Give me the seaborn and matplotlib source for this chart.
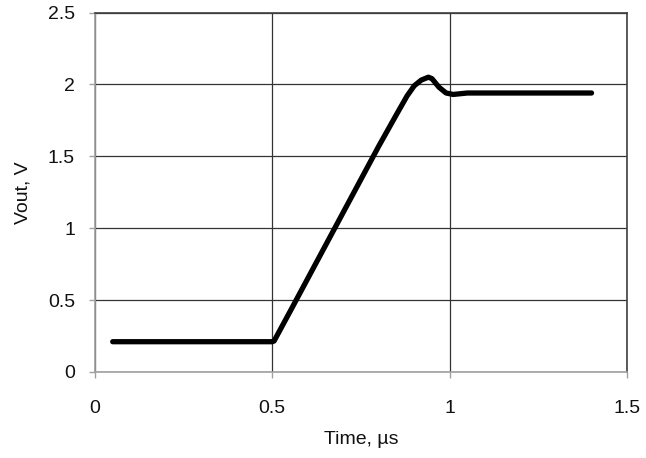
import matplotlib
matplotlib.use("Agg")
import matplotlib.pyplot as plt
import pandas as pd
import seaborn as sns

# Vout step response
time_us = [0.05, 0.10, 0.15, 0.20, 0.25, 0.30, 0.35, 0.40, 0.45, 0.50, 0.505,
           0.55, 0.60, 0.65, 0.70, 0.75, 0.80, 0.85, 0.88, 0.90, 0.92, 0.94,
           0.95, 0.97, 0.99, 1.01, 1.03, 1.05, 1.10, 1.15, 1.20, 1.25, 1.30,
           1.35, 1.40]
vout = [0.21, 0.21, 0.21, 0.21, 0.21, 0.21, 0.21, 0.21, 0.21, 0.21, 0.215,
        0.42, 0.65, 0.88, 1.11, 1.34, 1.57, 1.79, 1.92, 1.99, 2.03, 2.05,
        2.04, 1.98, 1.94, 1.93, 1.935, 1.94, 1.94, 1.94, 1.94, 1.94, 1.94,
        1.94, 1.94]

x_ticks = [0, 0.5, 1, 1.5]
y_ticks = [0, 0.5, 1, 1.5, 2, 2.5]
x_tick_labels = ["0", "0.5", "1", "1.5"]
y_tick_labels = ["0", "0.5", "1", "1.5", "2", "2.5"]

df = pd.DataFrame({"Time": time_us, "Vout": vout})

sns.set_style("white")
plt.rcParams["font.family"] = ["Liberation Sans", "DejaVu Sans"]

fig = plt.figure(figsize=(6.46, 4.58), dpi=100)
ax = fig.add_axes([0.147, 0.188, 0.8236, 0.7847])

sns.lineplot(data=df, x="Time", y="Vout", color="black", linewidth=3.8, ax=ax)

ax.set_xlim(0, 1.5)
ax.set_ylim(0, 2.5)
ax.set_xticks(x_ticks)
ax.set_xticklabels(x_tick_labels)
ax.set_yticks(y_ticks)
ax.set_yticklabels(y_tick_labels)

ax.grid(True, color="#333333", linewidth=0.9)
ax.set_axisbelow(True)

for side in ["top", "right"]:
    ax.spines[side].set_color("#404040")
    ax.spines[side].set_linewidth(1.2)
for side in ["left", "bottom"]:
    ax.spines[side].set_color("#a0a0a0")
    ax.spines[side].set_linewidth(1.2)

ax.tick_params(axis="both", direction="out", length=4.3, width=1, color="#a0a0a0",
               labelsize=14, labelcolor="#111111", left=True, bottom=True)
ax.tick_params(axis="y", pad=10)
ax.tick_params(axis="x", pad=16)

ax.set_xlabel("Time, µs", fontsize=14, labelpad=10, color="#111111")
ax.set_ylabel("Vout, V", fontsize=14, labelpad=12, color="#111111")

fig.savefig("out.png", dpi=100)
plt.close(fig)
